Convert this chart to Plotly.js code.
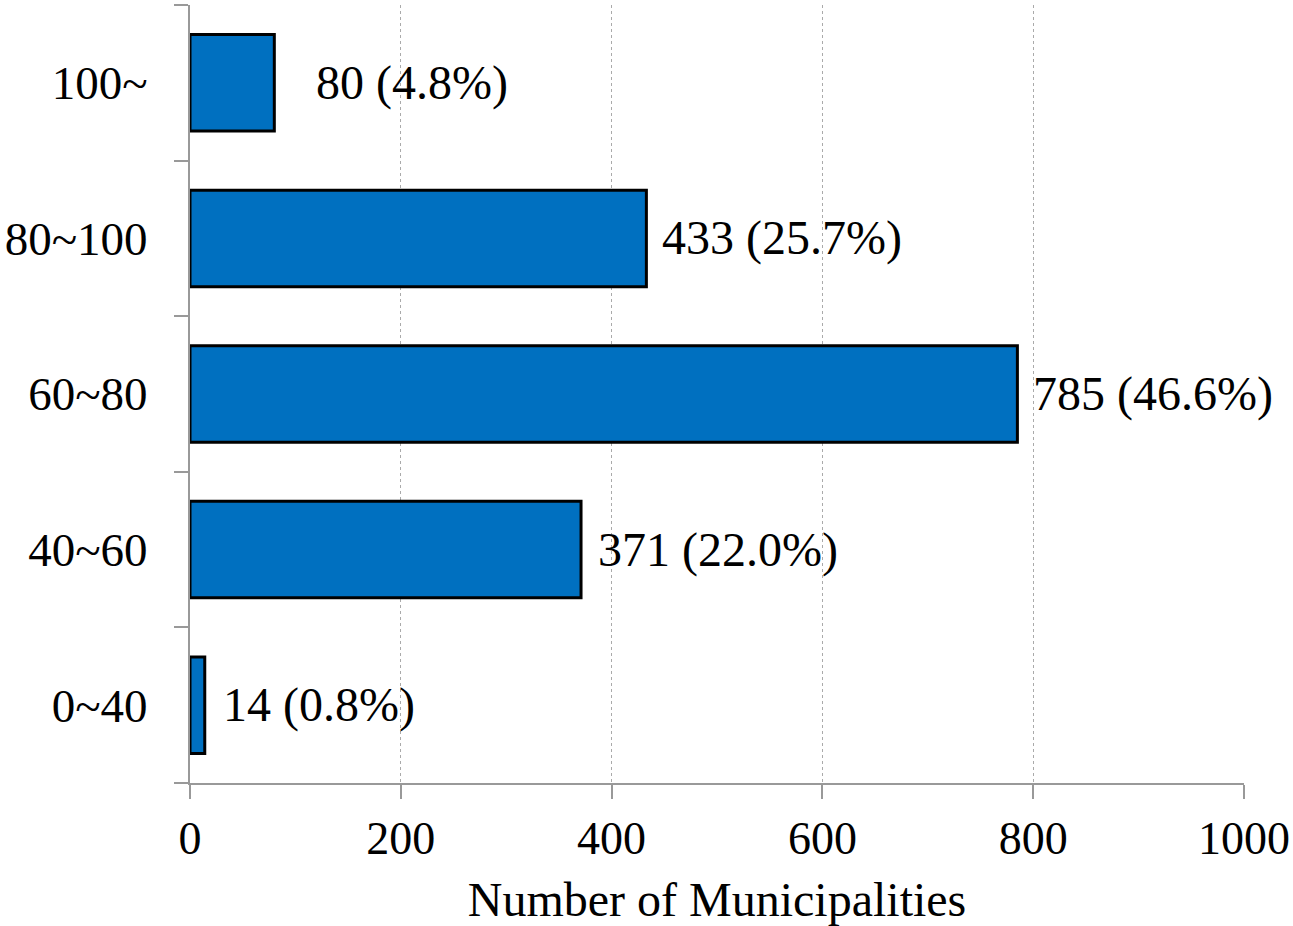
<!DOCTYPE html>
<html>
<head>
<meta charset="utf-8">
<script src="https://cdn.plot.ly/plotly-3.0.1.min.js"></script>
<style>
  html, body { margin: 0; padding: 0; background: #fff; }
  #chart { width: 1293px; height: 926px; }
</style>
</head>
<body>
<div id="chart"></div>
<script>
// Score bands, listed bottom to top
const bands = ['0~40', '40~60', '60~80', '80~100', '100~'];
const counts = [14, 371, 785, 433, 80];
const shares = [0.8, 22.0, 46.6, 25.7, 4.8];
const labelShift = [16, 15, 14, 14, 40];
const xTicks = [0, 200, 400, 600, 800, 1000];

const serif = '"Liberation Serif", "Times New Roman", serif';

const trace = {
  type: 'bar',
  orientation: 'h',
  y: bands,
  x: counts,
  marker: { color: '#0070C0', line: { color: '#000', width: 3 } },
  hoverinfo: 'skip'
};

const annotations = counts.map((c, i) => ({
  x: c,
  y: bands[i],
  xref: 'x',
  yref: 'y',
  text: c + ' (' + shares[i].toFixed(1) + '%)',
  showarrow: false,
  xanchor: 'left',
  yanchor: 'middle',
  xshift: labelShift[i],
  font: { family: serif, size: 48, color: '#000' }
}));

const layout = {
  width: 1293,
  height: 926,
  margin: { l: 190, r: 49, t: 5, b: 143 },
  paper_bgcolor: '#fff',
  plot_bgcolor: '#fff',
  showlegend: false,
  bargap: 0.38,
  font: { family: serif, size: 45, color: '#000' },
  xaxis: {
    range: [0, 1000],
    tickvals: xTicks,
    ticktext: xTicks.map(String),
    showgrid: true,
    gridcolor: '#aaa',
    gridwidth: 1,
    griddash: 'dot',
    zeroline: false,
    showline: true,
    linecolor: '#999',
    linewidth: 2,
    ticks: 'outside',
    ticklen: 14,
    tickwidth: 2,
    tickcolor: '#999',
    tickfont: { family: serif, size: 46, color: '#000' },
    title: { text: 'Number of Municipalities', font: { family: serif, size: 48, color: '#000' }, standoff: 24 }
  },
  yaxis: {
    type: 'category',
    categoryorder: 'array',
    categoryarray: bands,
    range: [-0.5, 4.5],
    showgrid: false,
    zeroline: false,
    showline: true,
    linecolor: '#999',
    linewidth: 2,
    ticks: 'outside',
    tickson: 'boundaries',
    ticklen: 14,
    tickwidth: 2,
    tickcolor: '#999',
    tickfont: { family: serif, size: 47, color: '#000' },
    ticklabelstandoff: 31
  },
  annotations: annotations
};

Plotly.newPlot('chart', [trace], layout, { displayModeBar: false, staticPlot: true });
</script>
</body>
</html>
